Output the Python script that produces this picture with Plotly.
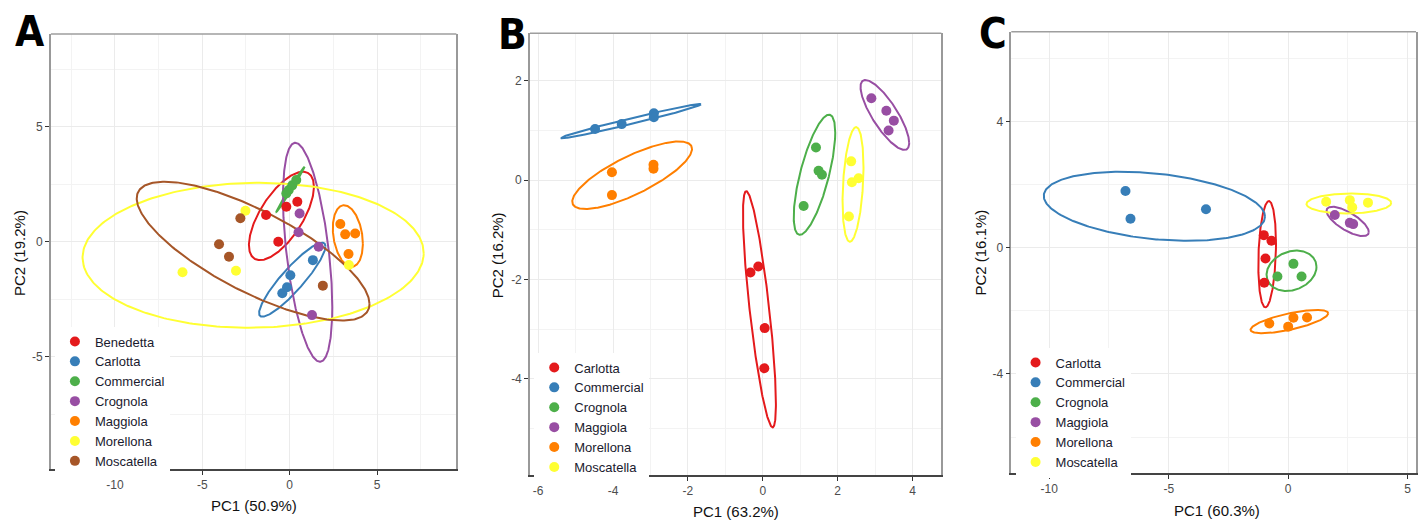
import numpy as np
import plotly.graph_objects as go

# ---------------- colours (ColorBrewer Set1) ----------------
RED, BLUE, GREEN, PURPLE = "#E41A1C", "#377EB8", "#4DAF4A", "#984EA3"
ORANGE, YELLOW, BROWN = "#FF7F00", "#FFFF33", "#A65628"

# ---------------- Panel A ----------------
groups_A = ["Benedetta", "Carlotta", "Commercial", "Crognola", "Maggiola", "Morellona", "Moscatella"]
colors_A = [RED, BLUE, GREEN, PURPLE, ORANGE, YELLOW, BROWN]
A_pc1 = [
    [-1.35, -0.65, -0.19, 0.44],
    [-0.42, -0.15, 0.04, 1.33],
    [-0.19, -0.05, 0.15, 0.38],
    [0.57, 0.51, 1.66, 1.28],
    [2.90, 3.18, 3.75, 3.37],
    [-2.53, -3.07, -6.13, 3.39],
    [-2.82, -4.04, -3.47, 1.90],
]
A_pc2 = [
    [1.16, 0.00, 1.52, 1.74],
    [-2.24, -1.98, -1.46, -0.80],
    [2.10, 2.25, 2.45, 2.68],
    [1.23, 0.41, -0.22, -3.19],
    [0.77, 0.32, 0.36, -0.53],
    [1.35, -1.26, -1.33, -1.01],
    [1.02, -0.11, -0.65, -1.91],
]
# 95% ellipses: centre, half-width (PC1), half-height (PC2), correlation
A_ell_cx = [-0.47, 0.15, 0.05, 1.03, 3.33, -2.09, -2.09]
A_ell_cy = [1.12, -1.65, 2.28, -0.46, 0.25, -0.59, -0.41]
A_ell_w = [1.86, 1.90, 0.81, 1.41, 0.86, 9.76, 6.66]
A_ell_h = [1.92, 1.61, 0.98, 4.76, 1.34, 3.15, 3.02]
A_ell_r = [0.66, 0.90, 0.995, -0.50, -0.25, 0.03, -0.76]

# ---------------- Panel B ----------------
groups_B = ["Carlotta", "Commercial", "Crognola", "Maggiola", "Morellona", "Moscatella"]
colors_B = [RED, BLUE, GREEN, PURPLE, ORANGE, YELLOW]
B_pc1 = [
    [-0.33, -0.12, 0.05, 0.04],
    [-4.48, -3.77, -2.91, -2.91],
    [1.42, 1.49, 1.58, 1.09],
    [2.90, 3.30, 3.50, 3.36],
    [-4.03, -4.03, -2.92, -2.92],
    [2.36, 2.38, 2.56, 2.30],
]
B_pc2 = [
    [-1.86, -1.74, -2.98, -3.79],
    [1.03, 1.13, 1.35, 1.27],
    [0.66, 0.19, 0.11, -0.52],
    [1.65, 1.40, 1.20, 1.00],
    [0.16, -0.30, 0.31, 0.23],
    [0.38, -0.04, 0.04, -0.73],
]
B_ell_cx = [-0.09, -3.52, 1.38, 3.26, -3.49, 2.41]
B_ell_cy = [-2.60, 1.19, 0.11, 1.315, 0.10, -0.085]
B_ell_w = [0.44, 1.87, 0.555, 0.65, 1.60, 0.28]
B_ell_h = [2.38, 0.345, 1.21, 0.705, 0.68, 1.155]
B_ell_r = [-0.80, 0.985, 0.70, -0.80, 0.78, 0.30]

# ---------------- Panel C ----------------
groups_C = ["Carlotta", "Commercial", "Crognola", "Maggiola", "Morellona", "Moscatella"]
colors_C = [RED, BLUE, GREEN, PURPLE, ORANGE, YELLOW]
C_pc1 = [
    [-1.02, -0.70, -0.95, -1.00],
    [-6.81, -6.60, -3.44],
    [0.22, -0.45, 0.56],
    [1.95, 2.58, 2.72],
    [-0.79, 0.00, 0.22, 0.79],
    [1.59, 2.58, 2.68, 3.34],
]
C_pc2 = [
    [0.40, 0.22, -0.34, -1.11],
    [1.80, 0.92, 1.22],
    [-0.51, -0.91, -0.91],
    [1.04, 0.79, 0.75],
    [-2.40, -2.50, -2.22, -2.21],
    [1.46, 1.51, 1.28, 1.43],
]
C_ell_cx = [-0.88, -5.60, 0.14, 2.49, 0.05, 2.54]
C_ell_cy = [-0.205, 1.315, -0.73, 0.835, -2.34, 1.405]
C_ell_w = [0.37, 4.63, 1.045, 0.885, 1.625, 1.775]
C_ell_h = [1.685, 1.095, 0.64, 0.465, 0.37, 0.317]
C_ell_r = [0.20, -0.30, 0.20, -0.72, 0.70, 0.05]

# axis labels / ticks
A_xtitle, A_ytitle = "PC1 (50.9%)", "PC2 (19.2%)"
B_xtitle, B_ytitle = "PC1 (63.2%)", "PC2 (16.2%)"
C_xtitle, C_ytitle = "PC1 (60.3%)", "PC2 (16.1%)"
A_xticks, A_yticks = [-10, -5, 0, 5], [-5, 0, 5]
B_xticks, B_yticks = [-6, -4, -2, 0, 2, 4], [-4, -2, 0, 2]
C_xticks, C_yticks = [-10, -5, 0, 5], [-4, 0, 4]

W_FIG, H_FIG = 1418, 523


def ellipse(cx, cy, w, h, r, n=300):
    t = np.linspace(0, 2 * np.pi, n)
    x = cx + w * np.cos(t)
    y = cy + h * (r * np.cos(t) + np.sqrt(max(1 - r * r, 0.0)) * np.sin(t))
    return x, y


def px_x(v):
    return v / W_FIG


def px_y(v):
    return 1 - v / H_FIG


panels = [
    dict(label="A", sfx="", groups=groups_A, colors=colors_A, pc1=A_pc1, pc2=A_pc2,
         ell=(A_ell_cx, A_ell_cy, A_ell_w, A_ell_h, A_ell_r),
         xr=[-13.66, 9.54], yr=[-9.88, 9.03], xdom=[51, 457], ydom=[34, 469],
         xt=A_xticks, yt=A_yticks, xminor=2.5, yminor=2.5,
         xtitle=A_xtitle, ytitle=A_ytitle, xtitle_pos=(254, 505), ytitle_pos=(20, 253),
         lab_pos=(30, 31), leg="legend", leg_pos=(55, 326.5)),
    dict(label="B", sfx="2", groups=groups_B, colors=colors_B, pc1=B_pc1, pc2=B_pc2,
         ell=(B_ell_cx, B_ell_cy, B_ell_w, B_ell_h, B_ell_r),
         xr=[-6.22, 4.77], yr=[-5.94, 2.96], xdom=[530.7, 942.7], ydom=[33.3, 475],
         xt=B_xticks, yt=B_yticks, xminor=1, yminor=1,
         xtitle=B_xtitle, ytitle=B_ytitle, xtitle_pos=(736.7, 511), ytitle_pos=(498, 255),
         lab_pos=(513, 35), leg="legend2", leg_pos=(535, 352.5)),
    dict(label="C", sfx="3", groups=groups_C, colors=colors_C, pc1=C_pc1, pc2=C_pc2,
         ell=(C_ell_cx, C_ell_cy, C_ell_w, C_ell_h, C_ell_r),
         xr=[-11.59, 5.35], yr=[-7.15, 6.85], xdom=[1012.7, 1418], ydom=[31.7, 473.3],
         xt=C_xticks, yt=C_yticks, xminor=2.5, yminor=2,
         xtitle=C_xtitle, ytitle=C_ytitle, xtitle_pos=(1219, 510), ytitle_pos=(982, 253),
         lab_pos=(994, 34), leg="legend3", leg_pos=(1017, 347.5)),
]

FONT = "Liberation Sans, Arial, sans-serif"
fig = go.Figure()
annotations = []
shapes = []
layout_axes = {}

for p in panels:
    xa, ya = "x" + p["sfx"], "y" + p["sfx"]
    cx, cy, w, h, r = p["ell"]
    # ellipses
    for i, g in enumerate(p["groups"]):
        ex, ey = ellipse(cx[i], cy[i], w[i], h[i], r[i])
        fig.add_trace(go.Scatter(x=ex, y=ey, mode="lines", xaxis=xa, yaxis=ya,
                                 line=dict(color=p["colors"][i], width=2),
                                 showlegend=False, hoverinfo="skip"))
    # points
    for i, g in enumerate(p["groups"]):
        fig.add_trace(go.Scatter(x=p["pc1"][i], y=p["pc2"][i], mode="markers", name=g,
                                 xaxis=xa, yaxis=ya, legend=p["leg"],
                                 marker=dict(color=p["colors"][i], size=10, line=dict(width=0))))
    xk = "xaxis" + p["sfx"]
    yk = "yaxis" + p["sfx"]
    layout_axes[xk] = dict(
        domain=[px_x(p["xdom"][0]), min(px_x(p["xdom"][1]), 1.0)], range=p["xr"], anchor=ya,
        tickmode="array", tickvals=p["xt"], ticktext=[str(v) for v in p["xt"]],
        ticks="outside", ticklen=4, tickwidth=1, tickcolor="#333333",
        tickfont=dict(family=FONT, size=12, color="#4d4d4d"),
        showgrid=True, gridcolor="#ebebeb", gridwidth=1, zeroline=False,
        minor=dict(dtick=p["xminor"], tick0=0, showgrid=True, gridcolor="#f3f3f3", gridwidth=1, ticks=""),
        showline=True, linecolor="#444444", linewidth=1.5, mirror=False, fixedrange=True,
    )
    layout_axes[yk] = dict(
        domain=[px_y(p["ydom"][1]), px_y(p["ydom"][0])], range=p["yr"], anchor=xa,
        tickmode="array", tickvals=p["yt"], ticktext=[str(v) for v in p["yt"]],
        ticks="outside", ticklen=4, tickwidth=1, tickcolor="#333333",
        tickfont=dict(family=FONT, size=12, color="#4d4d4d"),
        showgrid=True, gridcolor="#ebebeb", gridwidth=1, zeroline=False,
        minor=dict(dtick=p["yminor"], tick0=0, showgrid=True, gridcolor="#f3f3f3", gridwidth=1, ticks=""),
        showline=True, linecolor="#999999", linewidth=1.5, mirror=True, fixedrange=True,
    )
    # top border (lighter)
    shapes.append(dict(type="line", xref=xa + " domain", yref=ya + " domain",
                       x0=0, x1=1, y0=1, y1=1, line=dict(color="#9e9e9e", width=1.5)))
    # axis titles
    annotations.append(dict(text=p["xtitle"], x=px_x(p["xtitle_pos"][0]), y=px_y(p["xtitle_pos"][1]),
                            xref="paper", yref="paper", showarrow=False, xanchor="center", yanchor="middle",
                            font=dict(family=FONT, size=15, color="#111111")))
    annotations.append(dict(text=p["ytitle"], x=px_x(p["ytitle_pos"][0]), y=px_y(p["ytitle_pos"][1]),
                            xref="paper", yref="paper", showarrow=False, xanchor="center", yanchor="middle",
                            textangle=-90, font=dict(family=FONT, size=15, color="#111111")))
    # panel letter
    annotations.append(dict(text="<b>%s</b>" % p["label"], x=px_x(p["lab_pos"][0]), y=px_y(p["lab_pos"][1]),
                            xref="paper", yref="paper", showarrow=False, xanchor="center", yanchor="middle",
                            font=dict(family="Liberation Sans Narrow, DejaVu Sans Condensed, Liberation Sans",
                                      size=42, color="#000000")))
    layout_axes[p["leg"]] = dict(
        x=px_x(p["leg_pos"][0]), y=px_y(p["leg_pos"][1]), xanchor="left", yanchor="top",
        bgcolor="#ffffff", borderwidth=0, font=dict(family=FONT, size=13, color="#1a1a2e"),
        itemwidth=30, tracegroupgap=0, traceorder="normal",
    )

fig.update_layout(
    width=W_FIG, height=H_FIG, margin=dict(l=0, r=0, t=0, b=0),
    paper_bgcolor="#ffffff", plot_bgcolor="#ffffff", showlegend=True,
    annotations=annotations, shapes=shapes, **layout_axes,
)

fig.write_html("out.html", config={"displayModeBar": False},
               post_script="document.body.style.margin='0';document.body.style.padding='0';")
